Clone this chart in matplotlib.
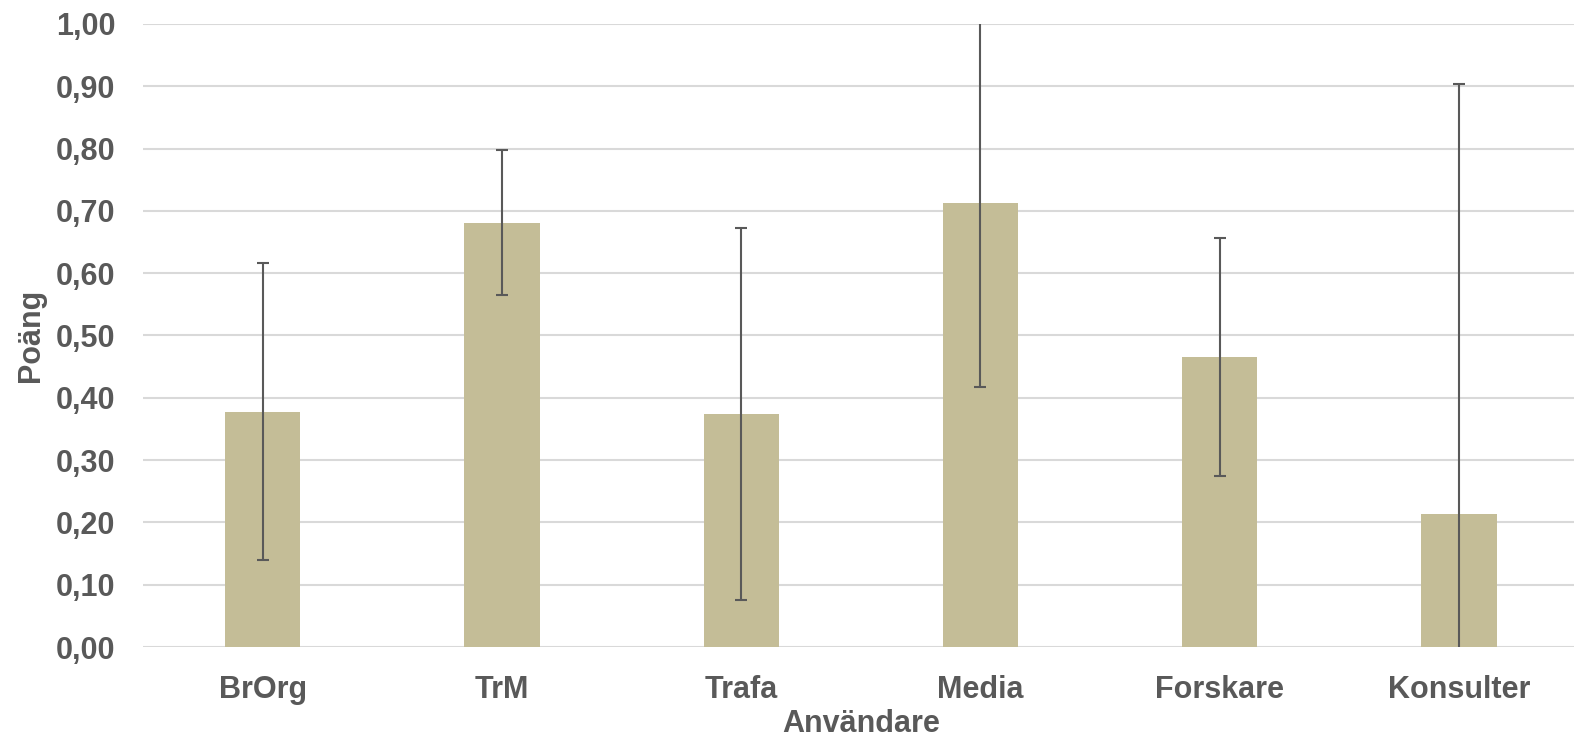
import numpy as np
import matplotlib.pyplot as plt
from matplotlib.ticker import FuncFormatter

# Data
kategorier = ["BrOrg", "TrM", "Trafa", "Media", "Forskare", "Konsulter"]
poang = [0.378, 0.681, 0.374, 0.713, 0.466, 0.213]
fel = [0.239, 0.116, 0.299, 0.295, 0.191, 0.690]

plt.rcParams["font.family"] = ["Liberation Sans", "DejaVu Sans"]
plt.rcParams["font.weight"] = "bold"
grey = "#595959"

fig = plt.figure(figsize=(15.74, 7.42), dpi=100)
ax = fig.add_axes([0.0909, 0.128, 0.912, 0.8397])

x = np.arange(len(kategorier))
ax.bar(x, poang, width=0.314, color="#C4BD97", zorder=2)
ax.errorbar(x, poang, yerr=fel, fmt="none", ecolor=grey, elinewidth=1.5,
            capsize=4.5, capthick=1.5, zorder=3)

ax.set_ylim(0, 1.0)
ax.set_xlim(-0.5, 5.5)
ax.set_yticks(np.arange(0, 1.01, 0.1))
ax.yaxis.set_major_formatter(FuncFormatter(lambda v, p: f"{v:.2f}".replace(".", ",")))
ax.set_xticks(x)
ax.set_xticklabels(kategorier)

ax.grid(axis="y", color="#D9D9D9", linewidth=1.5, zorder=0)
ax.set_axisbelow(True)
for s in ax.spines.values():
    s.set_visible(False)
ax.tick_params(axis="both", length=0, colors=grey, labelsize=22)
ax.tick_params(axis="y", pad=20)
ax.tick_params(axis="x", pad=20)

ax.set_xlabel("Användare", fontsize=22, color=grey, fontweight="bold", labelpad=3)
ax.set_ylabel("Poäng", fontsize=22, color=grey, fontweight="bold", labelpad=7)

plt.savefig("out.png", dpi=100)
